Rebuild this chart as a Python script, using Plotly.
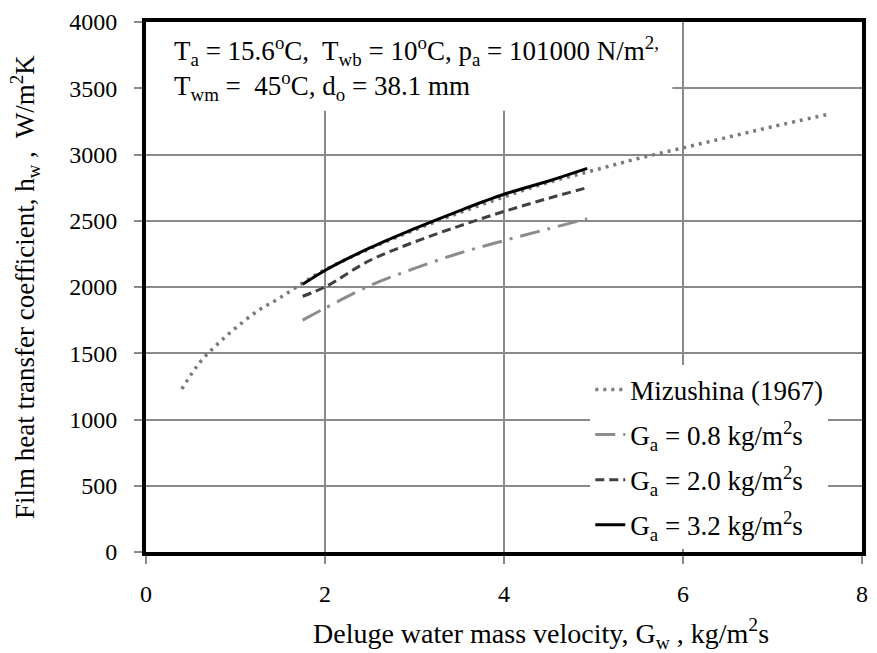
import plotly.graph_objects as go

# Mizushina (1967) correlation curve
mizushina_gw = [0.4, 0.6, 0.8, 1.0, 1.25, 1.5, 1.75, 2.0, 2.5, 3.0, 3.5, 4.0,
                4.5, 5.0, 5.5, 6.0, 6.5, 7.0, 7.6]
mizushina_hw = [1230, 1430, 1570, 1690, 1820, 1920, 2030, 2130, 2290, 2430, 2560,
                2680, 2790, 2880, 2970, 3050, 3130, 3210, 3300]

# Present model at three air mass velocities
gw_model = [1.75, 2.0, 2.5, 3.0, 3.5, 4.0, 4.5, 4.93]
hw_ga08 = [1750, 1840, 2010, 2140, 2255, 2350, 2440, 2515]
hw_ga20 = [1930, 2000, 2200, 2340, 2460, 2570, 2670, 2750]
hw_ga32 = [2020, 2125, 2295, 2440, 2575, 2700, 2800, 2895]

x_ticks = [0, 2, 4, 6, 8]
y_ticks = [0, 500, 1000, 1500, 2000, 2500, 3000, 3500, 4000]

FONT = "Liberation Serif, Times New Roman, serif"
GRID = "#8a8a8a"

fig = go.Figure()

fig.add_trace(go.Scatter(
    x=mizushina_gw, y=mizushina_hw, mode="lines", line_shape="spline",
    name="Mizushina (1967)", legendgroup="a",
    line=dict(color="#7a7a7a", width=3.5, dash="3px,5px"),
))
fig.add_trace(go.Scatter(
    x=gw_model, y=hw_ga08, mode="lines", line_shape="spline",
    name="G<sub>a</sub> = 0.8 kg/m<sup>2</sup>s", legendgroup="b",
    line=dict(color="#8c8c8c", width=3, dash="20px,8px,3px,8px"),
))
fig.add_trace(go.Scatter(
    x=gw_model, y=hw_ga20, mode="lines", line_shape="spline",
    name="G<sub>a</sub> = 2.0 kg/m<sup>2</sup>s", legendgroup="c",
    line=dict(color="#404040", width=3, dash="9px,5px"),
))
fig.add_trace(go.Scatter(
    x=gw_model, y=hw_ga32, mode="lines", line_shape="spline",
    name="G<sub>a</sub> = 3.2 kg/m<sup>2</sup>s", legendgroup="d",
    line=dict(color="#000000", width=3),
))

# white panel behind the condition text
fig.add_shape(type="rect", xref="x", yref="y", x0=0, x1=5.88, y0=3330, y1=4000,
              fillcolor="white", line_width=0, layer="between")

fig.add_annotation(
    xref="paper", yref="paper", x=0.036, y=0.946, xanchor="left", yanchor="middle",
    showarrow=False, font=dict(family=FONT, size=27, color="black"),
    text="T<sub>a</sub> = 15.6<sup>o</sup>C,  T<sub>wb</sub> = 10<sup>o</sup>C, "
         "p<sub>a</sub> = 101000 N/m<sup>2,</sup>",
)
fig.add_annotation(
    xref="paper", yref="paper", x=0.036, y=0.879, xanchor="left", yanchor="middle",
    showarrow=False, font=dict(family=FONT, size=27, color="black"),
    text="T<sub>wm</sub> =  45<sup>o</sup>C, d<sub>o</sub> = 38.1 mm",
)

# axis titles
fig.add_annotation(
    xref="paper", yref="paper", x=0.551, y=-0.1546, xanchor="center", yanchor="middle",
    showarrow=False, font=dict(family=FONT, size=28, color="black"),
    text="Deluge water mass velocity, G<sub>w</sub> , kg/m<sup>2</sup>s",
)
fig.add_annotation(
    xref="paper", yref="paper", x=-0.169, y=0.5, xanchor="center", yanchor="middle",
    showarrow=False, textangle=-90, font=dict(family=FONT, size=27, color="black"),
    text="Film heat transfer coefficient, h<sub>w</sub> ,  W/m<sup>2</sup>K",
)

axis_common = dict(
    showline=True, mirror=True, linecolor="black", linewidth=4,
    showgrid=True, gridcolor=GRID, gridwidth=1.5, zeroline=False,
    ticks="outside", ticklen=8, tickcolor=GRID, tickwidth=1.5,
    tickfont=dict(family=FONT, size=24, color="black"),
)

fig.update_xaxes(range=[0, 8], tickvals=x_ticks, ticklabelstandoff=9, **axis_common)
fig.update_yaxes(range=[0, 4000], tickvals=y_ticks, ticklabelstandoff=12, **axis_common)

fig.update_layout(
    width=877, height=653,
    margin=dict(l=146, r=9, t=15, b=101),
    paper_bgcolor="white", plot_bgcolor="white",
    font=dict(family=FONT, color="black"),
    showlegend=True,
    legend=dict(
        x=0.6205, y=0.352, xanchor="left", yanchor="top",
        bgcolor="white", borderwidth=0,
        font=dict(family=FONT, size=27, color="black"),
        tracegroupgap=7, itemwidth=30,
    ),
)

fig.write_html("out.html")
